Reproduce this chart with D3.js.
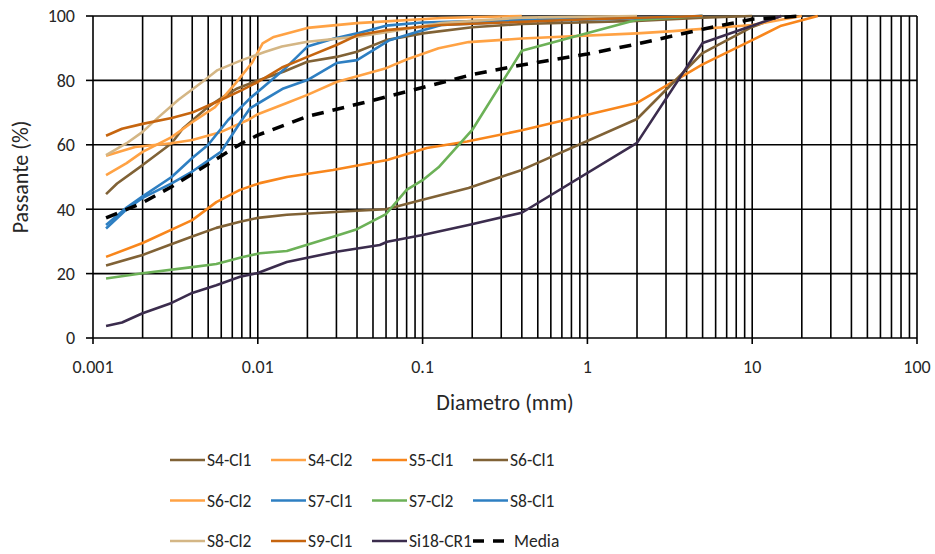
<!DOCTYPE html>
<html>
<head>
<meta charset="utf-8">
<script src="https://cdn.jsdelivr.net/npm/d3@7"></script>
<style>
    body { margin: 0; background: #fff; font-family: Carlito, Lato, "Liberation Sans", sans-serif; }
    svg { display: block; }
    .tick-label { font-size: 18px; fill: #262626; }
    .axis-title { font-size: 22px; fill: #262626; }
    .legend text { font-size: 17.5px; fill: #262626; }
</style>
</head>
<body>
<svg id="chart" width="935" height="554"></svg>
<script>
// diameter (mm), passante (%)
const s4cl1 = [[0.0012,44.7],[0.0014,48],[0.002,53.7],[0.003,60.5],[0.0035,65],[0.005,71.8],[0.006,74.5],[0.0075,77.5],[0.01,80],[0.0143,82.7],[0.02,85.8],[0.03,87.3],[0.04,88.9],[0.06,92.5],[0.1,94.6],[0.2,96.5],[0.4,97.5],[2,98.5],[5,99.5],[10,100]];
const s4cl2 = [[0.0012,50.6],[0.0016,54.3],[0.002,57.8],[0.003,62.4],[0.004,67],[0.0055,71.7],[0.0073,79],[0.0092,85.4],[0.0107,91.5],[0.0125,93.5],[0.02,96.3],[0.04,97.8],[0.13,99.4],[0.4,100]];
const s5cl1 = [[0.0012,25.2],[0.002,29.5],[0.004,36.6],[0.0056,42.2],[0.0078,46],[0.0103,48.1],[0.015,50],[0.0286,52.2],[0.061,55.3],[0.106,59],[0.186,61],[0.4,64.5],[2,73],[5,85],[10,92.5],[15,97],[25,100]];
const s6cl1 = [[0.0012,22.5],[0.002,25.8],[0.0029,28.9],[0.004,31.5],[0.0056,34.2],[0.0078,36.1],[0.01,37.3],[0.015,38.3],[0.04,39.5],[0.06,40],[0.1,42.9],[0.19,46.6],[0.4,52.2],[2,68],[5,88.5],[10,96.6],[15,100]];
const s6cl2 = [[0.0012,56.6],[0.0018,59.3],[0.003,60.5],[0.004,61.5],[0.006,64],[0.0087,67.7],[0.01,69.5],[0.015,73],[0.02,75.5],[0.03,79.5],[0.06,83.8],[0.08,86.5],[0.125,90],[0.19,91.9],[0.4,93],[2,94.6],[3.3,95.3],[10,97.2],[20,100]];
const s7cl1 = [[0.0012,35.1],[0.0016,40.5],[0.002,44],[0.003,50],[0.004,55.9],[0.005,60],[0.0066,67.7],[0.009,74.5],[0.0143,83.2],[0.02,90.5],[0.029,93],[0.04,94.6],[0.06,97],[0.1,98],[0.4,98.8],[2,99.5],[5,100]];
const s7cl2 = [[0.0012,18.5],[0.002,20.1],[0.004,22],[0.0056,23],[0.008,25.1],[0.0103,26.3],[0.015,27],[0.029,31.5],[0.04,33.8],[0.06,38.5],[0.08,46],[0.1,49],[0.125,53],[0.2,64.6],[0.4,89.2],[2,98.8],[5,100]];
const s8cl1 = [[0.0012,34],[0.0016,40],[0.002,43.5],[0.003,48],[0.004,51.7],[0.006,57.9],[0.008,67.7],[0.009,71.4],[0.0143,77.5],[0.02,80.1],[0.03,85.4],[0.04,86.3],[0.063,92.5],[0.092,95],[0.13,97.2],[0.4,98.3],[2,99.3],[5,100]];
const s8cl2 = [[0.0012,56.8],[0.0016,60.5],[0.002,64],[0.0025,68.6],[0.0033,74],[0.0046,79.5],[0.0057,83.2],[0.008,86.3],[0.011,88.8],[0.014,90.5],[0.02,92],[0.04,93.6],[0.063,95.1],[0.13,97.8],[0.4,99.5],[2,100]];
const s9cl1 = [[0.0012,62.8],[0.0015,65],[0.002,66.5],[0.003,68.3],[0.004,70],[0.006,74],[0.008,77],[0.01,79.5],[0.014,84],[0.02,87.3],[0.03,91],[0.04,94],[0.06,95.6],[0.13,97.2],[1,99],[5,100]];
const si18cr1 = [[0.0012,3.7],[0.0015,4.8],[0.002,7.7],[0.003,10.9],[0.004,14],[0.0056,16.4],[0.0078,19],[0.01,20.2],[0.015,23.6],[0.03,26.8],[0.055,28.9],[0.061,29.9],[0.1,32],[0.19,35.1],[0.4,38.9],[2,60.6],[5,91.6],[10,97],[15,100]];
const media = [[0.0012,37.3],[0.002,42],[0.003,47],[0.005,54],[0.008,60.5],[0.01,63],[0.02,68.8],[0.05,73.8],[0.1,77.8],[0.2,81.8],[0.4,84.8],[1,88.2],[2,91.3],[5,95.9],[10,99],[20,100]];

const seriesNames = ["S4-Cl1","S4-Cl2","S5-Cl1","S6-Cl1","S6-Cl2","S7-Cl1","S7-Cl2","S8-Cl1","S8-Cl2","S9-Cl1","Si18-CR1","Media"];
const seriesData = [s4cl1, s4cl2, s5cl1, s6cl1, s6cl2, s7cl1, s7cl2, s8cl1, s8cl2, s9cl1, si18cr1, media];
const seriesColors = ["#806236","#ffa244","#f8861c","#806236","#ffa244","#2e7fc2","#6cb157","#2e7fc2","#d4b685","#c6650f","#3b2c4d","#000000"];

const yTicks = [0, 20, 40, 60, 80, 100];
const xMajor = [0.001, 0.01, 0.1, 1, 10, 100];
const xTickLabels = ["0.001", "0.01", "0.1", "1", "10", "100"];

const svg = d3.select("#chart");
const plot = {left: 93, right: 917, top: 16, bottom: 338};

const x = d3.scaleLog().domain([0.001, 100]).range([plot.left, plot.right]);
const y = d3.scaleLinear().domain([0, 100]).range([plot.bottom, plot.top]);

// grid: every minor decade line is drawn in black
const grid = svg.append("g");
grid.selectAll(".vgrid").data(x.ticks())
    .enter().append("line")
    .attr("x1", d => x(d)).attr("x2", d => x(d))
    .attr("y1", plot.top).attr("y2", plot.bottom)
    .attr("stroke", "#000").attr("stroke-width", 1.6);
grid.selectAll(".hgrid").data(yTicks)
    .enter().append("line")
    .attr("x1", plot.left).attr("x2", plot.right)
    .attr("y1", d => y(d)).attr("y2", d => y(d))
    .attr("stroke", "#000").attr("stroke-width", 1.6);

// outward tick marks
grid.selectAll(".xt").data(xMajor)
    .enter().append("line")
    .attr("x1", d => x(d)).attr("x2", d => x(d))
    .attr("y1", plot.bottom).attr("y2", plot.bottom + 6)
    .attr("stroke", "#000").attr("stroke-width", 1.6);
grid.selectAll(".yt").data(yTicks)
    .enter().append("line")
    .attr("x1", plot.left - 7).attr("x2", plot.left)
    .attr("y1", d => y(d)).attr("y2", d => y(d))
    .attr("stroke", "#000").attr("stroke-width", 1.6);

svg.append("g").selectAll("text").data(xMajor)
    .enter().append("text")
    .attr("class", "tick-label")
    .attr("x", d => x(d)).attr("y", plot.bottom + 35)
    .attr("text-anchor", "middle")
    .text((d, i) => xTickLabels[i]);
svg.append("g").selectAll("text").data(yTicks)
    .enter().append("text")
    .attr("class", "tick-label")
    .attr("x", plot.left - 18).attr("y", d => y(d))
    .attr("dy", "0.35em")
    .attr("text-anchor", "end")
    .text(d => d);

svg.append("text").attr("class", "axis-title")
    .attr("x", 505).attr("y", 410)
    .attr("text-anchor", "middle")
    .text("Diametro (mm)");
svg.append("text").attr("class", "axis-title")
    .attr("transform", "translate(28,177) rotate(-90)")
    .attr("text-anchor", "middle")
    .text("Passante (%)");

const line = d3.line()
    .x(d => x(d[0]))
    .y(d => y(d[1]));

svg.append("g").selectAll("path").data(seriesData)
    .enter().append("path")
    .attr("d", line)
    .attr("fill", "none")
    .attr("stroke", (d, i) => seriesColors[i])
    .attr("stroke-width", (d, i) => seriesNames[i] == "Media" ? 3.5 : 2.6)
    .attr("stroke-dasharray", (d, i) => seriesNames[i] == "Media" ? "12,9" : null)
    .attr("stroke-linejoin", "round");

// legend, 4 per row
const legend = svg.selectAll(".legend").data(seriesNames)
    .enter().append("g")
    .attr("class", "legend")
    .attr("transform", (d, i) => "translate(" + (170 + (i % 4) * 101) + "," + (460 + Math.floor(i / 4) * 40.5) + ")");
legend.append("line")
    .attr("x1", 0).attr("x2", 35)
    .attr("stroke", (d, i) => seriesColors[i])
    .attr("stroke-width", (d, i) => d == "Media" ? 3.5 : 2.6)
    .attr("stroke-dasharray", d => d == "Media" ? "11,9" : null);
legend.append("text")
    .attr("x", d => d == "Media" ? 41 : 37)
    .attr("dy", "0.35em")
    .text(d => d);
</script>
</body>
</html>
